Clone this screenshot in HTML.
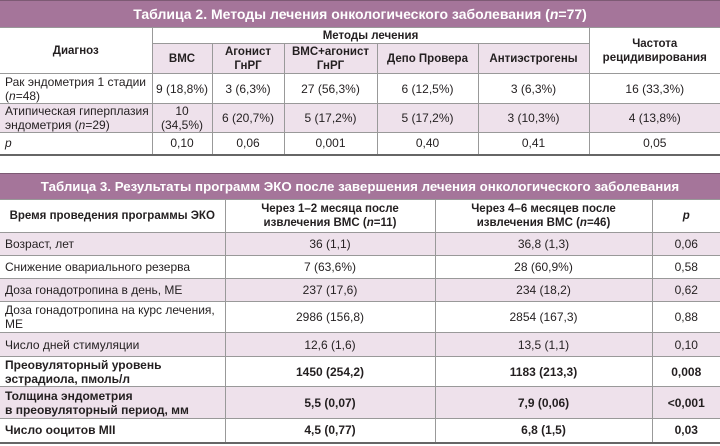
<!DOCTYPE html>
<html><head><meta charset="utf-8"><style>
*{margin:0;padding:0;box-sizing:border-box}
body{width:720px;height:446px;background:#fff;font-family:"Liberation Sans","DejaVu Sans",sans-serif;color:#231f20;position:relative;overflow:hidden}
.title{position:absolute;left:0;width:720px;background:#a5759a;color:#fff;font-weight:bold;font-size:14px;text-align:center;border-top:1px solid #7d5a74}
table{position:absolute;left:0;width:720px;border-collapse:collapse;table-layout:fixed;font-size:12px;line-height:14px}
td{border:1px solid #999;text-align:center;vertical-align:middle;padding:0 2px;white-space:nowrap}
td:first-child{border-left:none}
td:last-child{border-right:none}
.l{text-align:left;padding-left:5px}
.p{background:#eee1eb}
.b{font-weight:bold}
.h{font-weight:bold;font-size:11.5px}
tr.last td{border-bottom:2px solid #666}
</style></head><body>
<div class="title" style="top:0;height:27px;line-height:26px">Таблица 2. Методы лечения онкологического заболевания (<i>n</i>=77)</div>
<table style="top:27px">
<colgroup><col style="width:152px"><col style="width:60px"><col style="width:72px"><col style="width:93px"><col style="width:101px"><col style="width:111px"><col style="width:131px"></colgroup>
<tr style="height:16px"><td rowspan="2" class="h">Диагноз</td><td colspan="5" class="h" style="border-bottom:1px solid #999">Методы лечения</td><td rowspan="2" class="h">Частота<br>рецидивирования</td></tr>
<tr style="height:30px"><td class="h p">ВМС</td><td class="h p">Агонист<br>ГнРГ</td><td class="h p">ВМС+агонист<br>ГнРГ</td><td class="h p">Депо Провера</td><td class="h p">Антиэстрогены</td></tr>
<tr style="height:30px"><td class="l">Рак эндометрия 1 стадии<br>(<i>n</i>=48)</td><td>9 (18,8%)</td><td>3 (6,3%)</td><td>27 (56,3%)</td><td>6 (12,5%)</td><td>3 (6,3%)</td><td>16 (33,3%)</td></tr>
<tr style="height:29px" class="p"><td class="l">Атипическая гиперплазия<br>эндометрия (<i>n</i>=29)</td><td>10<br>(34,5%)</td><td>6 (20,7%)</td><td>5 (17,2%)</td><td>5 (17,2%)</td><td>3 (10,3%)</td><td>4 (13,8%)</td></tr>
<tr style="height:22px" class="last"><td class="l"><i>p</i></td><td>0,10</td><td>0,06</td><td>0,001</td><td>0,40</td><td>0,41</td><td>0,05</td></tr>
</table>
<div class="title" style="top:173px;height:26px;line-height:25px;font-size:13.3px">Таблица 3. Результаты программ ЭКО после завершения лечения онкологического заболевания</div>
<table style="top:199px">
<colgroup><col style="width:225px"><col style="width:210px"><col style="width:217px"><col style="width:68px"></colgroup>
<tr style="height:33px"><td class="h">Время проведения программы ЭКО</td><td class="h">Через 1–2 месяца после<br>извлечения ВМС (<i>n</i>=11)</td><td class="h">Через 4–6 месяцев после<br>извлечения ВМС (<i>n</i>=46)</td><td class="h"><i>p</i></td></tr>
<tr style="height:23px" class="p"><td class="l">Возраст, лет</td><td>36 (1,1)</td><td>36,8 (1,3)</td><td>0,06</td></tr>
<tr style="height:23px"><td class="l">Снижение овариального резерва</td><td>7 (63,6%)</td><td>28 (60,9%)</td><td>0,58</td></tr>
<tr style="height:23px" class="p"><td class="l">Доза гонадотропина в день, МЕ</td><td>237 (17,6)</td><td>234 (18,2)</td><td>0,62</td></tr>
<tr style="height:31px"><td class="l">Доза гонадотропина на курс лечения,<br>МЕ</td><td>2986 (156,8)</td><td>2854 (167,3)</td><td>0,88</td></tr>
<tr style="height:24px" class="p"><td class="l">Число дней стимуляции</td><td>12,6 (1,6)</td><td>13,5 (1,1)</td><td>0,10</td></tr>
<tr style="height:30px" class="b"><td class="l">Преовуляторный уровень<br>эстрадиола, пмоль/л</td><td>1450 (254,2)</td><td>1183 (213,3)</td><td>0,008</td></tr>
<tr style="height:32px" class="b p"><td class="l">Толщина эндометрия<br>в преовуляторный период, мм</td><td>5,5 (0,07)</td><td>7,9 (0,06)</td><td>&lt;0,001</td></tr>
<tr style="height:24px" class="b last"><td class="l">Число ооцитов MII</td><td>4,5 (0,77)</td><td>6,8 (1,5)</td><td>0,03</td></tr>
</table>
</body></html>
